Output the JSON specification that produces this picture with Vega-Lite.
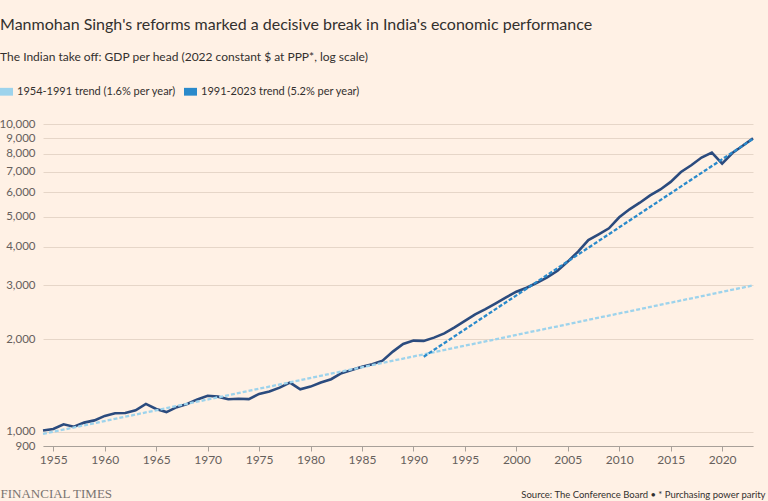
{
  "$schema": "https://vega.github.io/schema/vega-lite/v6.json",
  "width": 710,
  "height": 322,
  "autosize": {"type": "none"},
  "padding": {"left": 43, "top": 124, "right": 15, "bottom": 55},
  "background": "#fff1e5",
  "config": {
    "view": {"stroke": null},
    "font": "Lato",
    "legend": {"padding": 0}
  },
  "title": {
    "text": "Manmohan Singh's reforms marked a decisive break in India's economic performance",
    "subtitle": "The Indian take off: GDP per head (2022 constant $ at PPP*, log scale)",
    "anchor": "start",
    "frame": "bounds",
    "dx": 1,
    "font": "Lato",
    "fontSize": 16,
    "fontWeight": "normal",
    "color": "#33302e",
    "subtitleFont": "Lato",
    "subtitleFontSize": 12,
    "subtitleColor": "#33302e",
    "subtitlePadding": 19,
    "offset": 22
  },
  "datasets": {
    "gdp": [
      {"year": 1954, "value": 1010}, {"year": 1955, "value": 1022}, {"year": 1956, "value": 1059},
      {"year": 1957, "value": 1040}, {"year": 1958, "value": 1072}, {"year": 1959, "value": 1090},
      {"year": 1960, "value": 1127}, {"year": 1961, "value": 1150}, {"year": 1962, "value": 1152},
      {"year": 1963, "value": 1175}, {"year": 1964, "value": 1233}, {"year": 1965, "value": 1187},
      {"year": 1966, "value": 1160}, {"year": 1967, "value": 1203}, {"year": 1968, "value": 1232},
      {"year": 1969, "value": 1275}, {"year": 1970, "value": 1311}, {"year": 1971, "value": 1302},
      {"year": 1972, "value": 1277}, {"year": 1973, "value": 1282}, {"year": 1974, "value": 1278},
      {"year": 1975, "value": 1329}, {"year": 1976, "value": 1352}, {"year": 1977, "value": 1393},
      {"year": 1978, "value": 1446}, {"year": 1979, "value": 1375}, {"year": 1980, "value": 1403},
      {"year": 1981, "value": 1446}, {"year": 1982, "value": 1483}, {"year": 1983, "value": 1551},
      {"year": 1984, "value": 1589}, {"year": 1985, "value": 1629}, {"year": 1986, "value": 1658},
      {"year": 1987, "value": 1704}, {"year": 1988, "value": 1823}, {"year": 1989, "value": 1930},
      {"year": 1990, "value": 1979}, {"year": 1991, "value": 1975}, {"year": 1992, "value": 2024},
      {"year": 1993, "value": 2090}, {"year": 1994, "value": 2186}, {"year": 1995, "value": 2293},
      {"year": 1996, "value": 2410}, {"year": 1997, "value": 2503}, {"year": 1998, "value": 2616},
      {"year": 1999, "value": 2735}, {"year": 2000, "value": 2853}, {"year": 2001, "value": 2940},
      {"year": 2002, "value": 3050}, {"year": 2003, "value": 3175}, {"year": 2004, "value": 3337},
      {"year": 2005, "value": 3574}, {"year": 2006, "value": 3852}, {"year": 2007, "value": 4199},
      {"year": 2008, "value": 4383}, {"year": 2009, "value": 4585}, {"year": 2010, "value": 4978},
      {"year": 2011, "value": 5284}, {"year": 2012, "value": 5551}, {"year": 2013, "value": 5860},
      {"year": 2014, "value": 6130}, {"year": 2015, "value": 6486}, {"year": 2016, "value": 6986},
      {"year": 2017, "value": 7345}, {"year": 2018, "value": 7780}, {"year": 2019, "value": 8075},
      {"year": 2020, "value": 7440}, {"year": 2021, "value": 8050}, {"year": 2022, "value": 8500},
      {"year": 2023, "value": 8980}
    ],
    "trend": [
      {"year": 1954, "value": 985, "series": "1954-1991 trend (1.6% per year)"},
      {"year": 2023, "value": 2990, "series": "1954-1991 trend (1.6% per year)"},
      {"year": 1991, "value": 1755, "series": "1991-2023 trend (5.2% per year)"},
      {"year": 2023, "value": 8950, "series": "1991-2023 trend (5.2% per year)"}
    ]
  },
  "encoding": {
    "x": {
      "field": "year",
      "type": "quantitative",
      "scale": {"domain": [1954, 2023], "nice": false, "zero": false},
      "axis": {
        "title": "Source: The Conference Board • * Purchasing power parity",
        "titleX": 722,
        "titleY": 51,
        "titleAlign": "right",
        "titleBaseline": "alphabetic",
        "titleFont": "Lato",
        "titleFontSize": 9.5,
        "titleFontWeight": "normal",
        "titleColor": "#33302e",
        "values": [1955, 1960, 1965, 1970, 1975, 1980, 1985, 1990, 1995, 2000, 2005, 2010, 2015, 2020],
        "format": "d",
        "grid": false,
        "domainColor": "#a8a099",
        "tickColor": "#a8a099",
        "tickSize": 5,
        "labelPadding": 3,
        "labelFont": "Lato",
        "labelFontSize": 12,
        "labelColor": "#66605c"
      }
    },
    "y": {
      "field": "value",
      "type": "quantitative",
      "scale": {"type": "log", "domain": [900, 10000], "nice": false},
      "axis": {
        "title": "FINANCIAL TIMES",
        "titleAngle": 0,
        "titleX": -43,
        "titleY": 373,
        "titleAlign": "left",
        "titleBaseline": "alphabetic",
        "titleFont": "Liberation Serif",
        "titleFontSize": 13,
        "titleFontWeight": "normal",
        "titleColor": "#7a7470",
        "values": [900, 1000, 2000, 3000, 4000, 5000, 6000, 7000, 8000, 9000, 10000],
        "format": ",",
        "domain": false,
        "ticks": false,
        "tickSize": 0,
        "labelPadding": 8,
        "labelFont": "Lato",
        "labelFontSize": 11.5,
        "labelColor": "#66605c",
        "gridColor": "#e6d6c8",
        "gridWidth": 1
      }
    }
  },
  "layer": [
    {
      "data": {"name": "gdp"},
      "mark": {"type": "line", "color": "#2b4b7e", "strokeWidth": 2.6}
    },
    {
      "data": {"name": "trend"},
      "mark": {"type": "line", "strokeWidth": 2.3, "strokeDash": [4, 2]},
      "encoding": {
        "color": {
          "field": "series",
          "type": "nominal",
          "scale": {
            "domain": ["1954-1991 trend (1.6% per year)", "1991-2023 trend (5.2% per year)"],
            "range": ["#9dd3ec", "#2a8acb"]
          },
          "legend": {
            "orient": "none",
            "legendX": -43,
            "legendY": -39,
            "direction": "horizontal",
            "title": null,
            "symbolType": "M-1,-0.6H1V0.6H-1Z",
            "symbolSize": 169,
            "symbolOffset": 0,
            "labelOffset": 4,
            "labelLimit": 400,
            "labelFont": "Lato",
            "labelFontSize": 11,
            "labelColor": "#33302e",
            "columnPadding": 8,
            "encode": {
              "symbols": {
                "update": {
                  "fill": {"scale": "color", "field": "value"},
                  "strokeWidth": {"value": 0}
                }
              }
            }
          }
        }
      }
    }
  ]
}
